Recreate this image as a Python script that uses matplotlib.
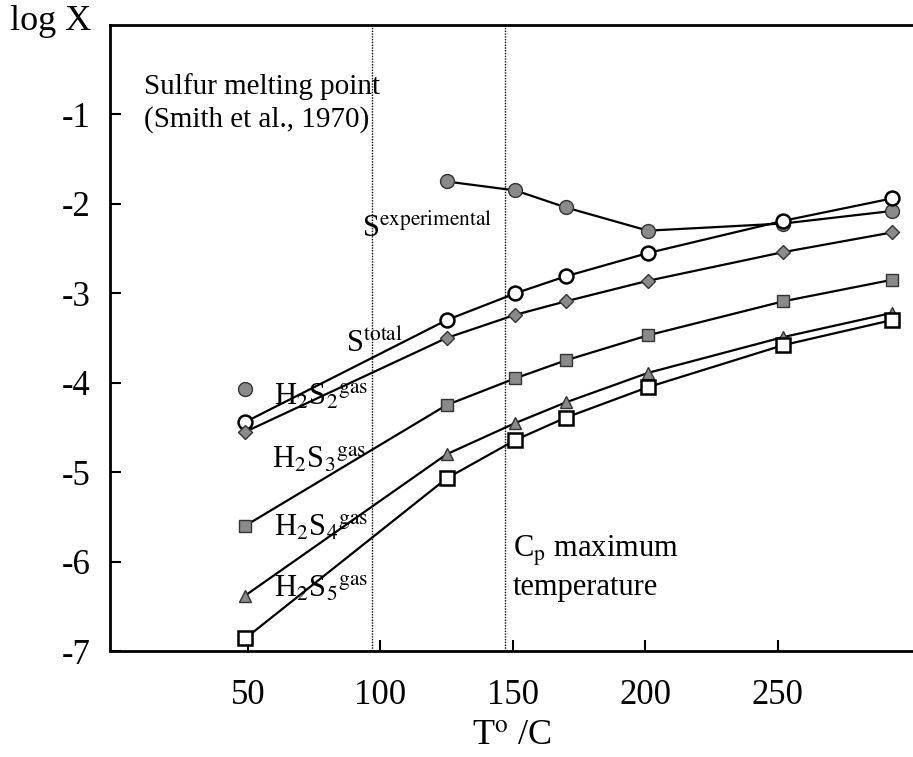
import matplotlib
matplotlib.use("Agg")
import matplotlib.pyplot as plt

plt.rcParams['font.family'] = ['Liberation Serif', 'DejaVu Serif']
plt.rcParams['mathtext.fontset'] = 'stix'

# temperatures (deg C)
T = [49, 125, 151, 170, 201, 252, 293]

s_exp_T = [125, 151, 170, 201, 252, 293]
s_exp = [-1.75, -1.85, -2.04, -2.30, -2.22, -2.08]
s_exp_melt = -4.07   # lone point at 50 C

s_total = [-4.44, -3.30, -3.00, -2.81, -2.55, -2.19, -1.94]
h2s2 = [-4.55, -3.50, -3.24, -3.09, -2.86, -2.54, -2.32]
h2s3 = [-5.60, -4.25, -3.95, -3.75, -3.47, -3.09, -2.85]
h2s4 = [-6.38, -4.80, -4.45, -4.22, -3.89, -3.49, -3.22]
h2s5 = [-6.86, -5.07, -4.64, -4.39, -4.05, -3.58, -3.30]

melt_T = 97
cp_max_T = 147

xticks = [50, 100, 150, 200, 250]
yticks = [-7, -6, -5, -4, -3, -2, -1]

fig = plt.figure(figsize=(9.13, 7.57), dpi=100)
ax = fig.add_axes([0.1205, 0.140, 0.8795, 0.827])

gray = '#8a8a8a'
lw = 1.6

ax.axvline(melt_T, color='black', ls=(0, (1, 1)), lw=1.0)
ax.axvline(cp_max_T, color='black', ls=(0, (1, 1)), lw=1.0)

ax.plot(s_exp_T, s_exp, '-o', color='black', lw=lw, ms=10, mfc=gray, mec='#333333', mew=1.0)
ax.plot([T[0]], [s_exp_melt], 'o', ms=10, mfc=gray, mec='#333333', mew=1.0)
ax.plot(T, s_total, '-o', color='black', lw=lw, ms=10, mfc='white', mec='black', mew=1.8)
ax.plot(T, h2s2, '-D', color='black', lw=lw, ms=7.5, mfc=gray, mec='#333333', mew=1.0)
ax.plot(T, h2s3, '-s', color='black', lw=lw, ms=9, mfc=gray, mec='#333333', mew=1.0)
ax.plot(T, h2s4, '-^', color='black', lw=lw, ms=9, mfc=gray, mec='#333333', mew=1.0)
ax.plot(T, h2s5, '-s', color='black', lw=lw, ms=10, mfc='white', mec='black', mew=1.8)

ax.set_xlim(-2, 301)
ax.set_ylim(-7, 0)
ax.set_xticks(xticks)
ax.set_yticks(yticks)
ax.set_yticklabels([str(v) for v in yticks])
ax.tick_params(direction='in', length=8, width=1.5, labelsize=25)
ax.tick_params(axis='x', pad=20)
ax.tick_params(axis='y', pad=14)

for s in ['left', 'bottom', 'top']:
    ax.spines[s].set_linewidth(2.0)
ax.spines['right'].set_visible(False)

fig.text(0.011, 0.971, 'log X', fontsize=26, va='center', ha='left')
ax.set_xlabel(r'T$^{\rm o}$ /C', fontsize=26, labelpad=6)

fs = 22
ax.text(11, -0.87, 'Sulfur melting point\n(Smith et al., 1970)', fontsize=fs - 1,
        va='center', ha='left', linespacing=1.3)
ax.text(93, -2.28, r'S$^{\rm experimental}$', fontsize=fs, ha='left', va='center')
ax.text(87, -3.58, r'S$^{\rm total}$', fontsize=fs, ha='left', va='center')
ax.text(60, -4.16, r'H$_2$S$_2$$^{\rm gas}$', fontsize=fs, ha='left', va='center')
ax.text(59, -4.86, r'H$_2$S$_3$$^{\rm gas}$', fontsize=fs, ha='left', va='center')
ax.text(60, -5.62, r'H$_2$S$_4$$^{\rm gas}$', fontsize=fs, ha='left', va='center')
ax.text(60, -6.30, r'H$_2$S$_5$$^{\rm gas}$', fontsize=fs, ha='left', va='center')
ax.text(150, -6.07, 'C$_{\\rm p}$ maximum\ntemperature', fontsize=fs,
        ha='left', va='center', linespacing=1.25)

fig.savefig('out.png', dpi=100)
